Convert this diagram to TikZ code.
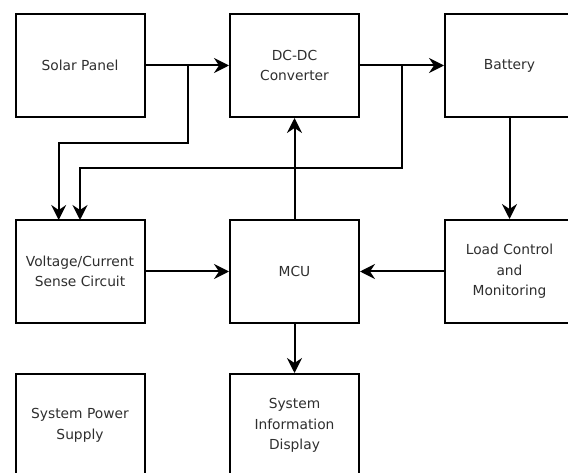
\documentclass[tikz,border=0pt]{standalone}
\usepackage{fontspec}
\setmainfont{DejaVu Sans}
\usetikzlibrary{arrows.meta,calc}
\begin{document}
\begin{tikzpicture}[x=1pt,y=-1pt,
  blk/.style={draw=black,line width=2pt,minimum width=129pt,minimum height=103pt,
    inner sep=0pt,align=center,text=black!82,
    font=\fontsize{13.8pt}{20.5pt}\selectfont},
  conn/.style={line width=2pt,-{Stealth[length=15pt,width=15pt,inset=5pt]}}]
\useasboundingbox (0,0) rectangle (568,473);
\node[blk] (sp) at (80,65.5) {Solar Panel};
\node[blk] (dc) at (294.5,65.5) {DC-DC\\Converter};
\node[blk] (bat) at (509.5,65.5) {Battery};
\node[blk] (vc) at (80,271.5) {Voltage/Current\\Sense Circuit};
\node[blk] (mcu) at (294.5,271.5) {MCU};
\node[blk] (lc) at (509.5,271.5) {Load Control\\and\\Monitoring};
\node[blk] (sps) at (80,425.5) {System Power\\Supply};
\node[blk] (sid) at (294.5,425.5) {System\\Information\\Display};
\coordinate (j1) at (187.7,65.5);
\coordinate (j2) at (402.3,65.5);
\coordinate (t1) at (58.7,220);
\coordinate (t2) at (80,220);
\draw[conn] (sp) -- (dc);
\draw[conn] (dc) -- (bat);
\draw[conn] (j1) -- (187.7,142.7) -| (t1);
\draw[conn] (j2) -- (402.3,168.3) -| (t2);
\draw[conn] (mcu) -- (dc);
\draw[conn] (bat) -- (lc);
\draw[conn] (vc) -- (mcu);
\draw[conn] (lc) -- (mcu);
\draw[conn] (mcu) -- (sid);
\end{tikzpicture}
\end{document}
